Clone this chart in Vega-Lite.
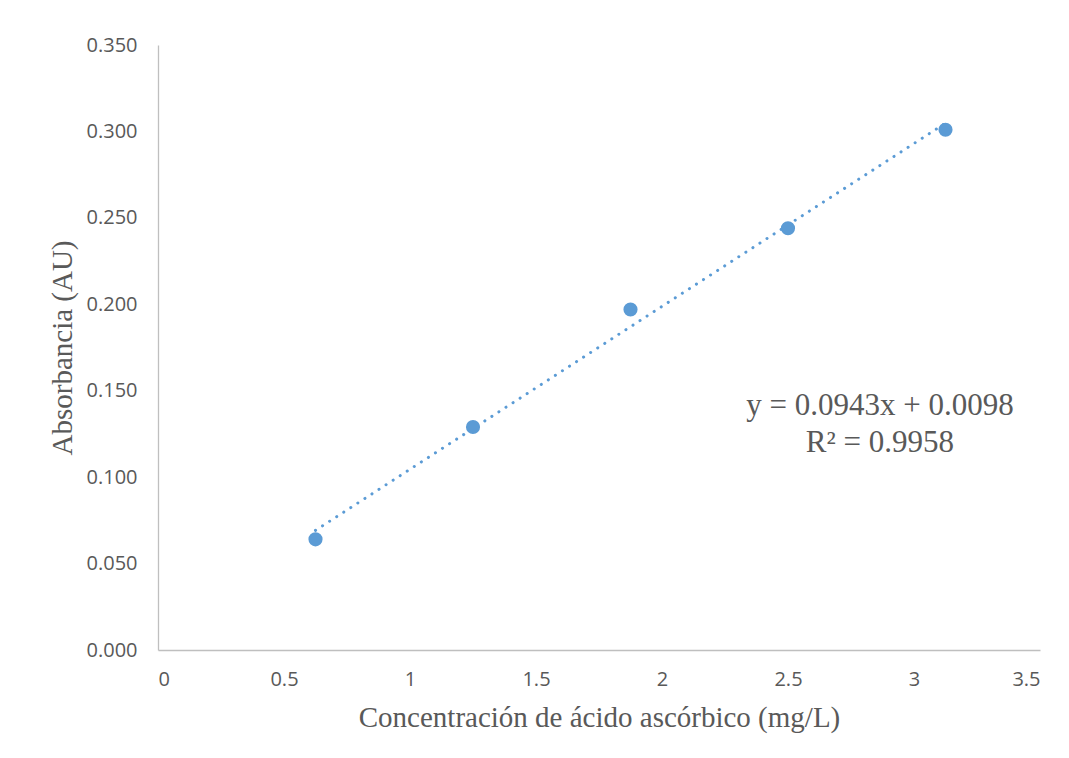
{
  "$schema": "https://vega.github.io/schema/vega-lite/v6.json",
  "width": 882,
  "height": 605,
  "autosize": {"type": "none"},
  "padding": {"left": 158, "top": 45, "right": 29, "bottom": 108},
  "background": "white",
  "config": {
    "view": {"stroke": null},
    "axis": {
      "grid": false,
      "ticks": false,
      "domain": true,
      "domainColor": "#BFBFBF",
      "domainWidth": 1.3,
      "labelFont": "Open Sans",
      "labelFontSize": 20,
      "labelColor": "#595959",
      "titleFont": "Liberation Serif",
      "titleFontSize": 29,
      "titleFontWeight": "normal",
      "titleColor": "#595959"
    }
  },
  "data": {
    "values": [
      {"conc": 0.625, "absorbance": 0.064},
      {"conc": 1.25, "absorbance": 0.129},
      {"conc": 1.875, "absorbance": 0.197},
      {"conc": 2.5, "absorbance": 0.244},
      {"conc": 3.125, "absorbance": 0.301}
    ]
  },
  "encoding": {
    "x": {
      "field": "conc",
      "type": "quantitative",
      "scale": {"domain": [0, 3.5], "nice": false, "zero": true},
      "axis": {
        "title": "Concentración de ácido ascórbico (mg/L)",
        "values": [0, 0.5, 1, 1.5, 2, 2.5, 3, 3.5],
        "format": "~g",
        "labelPadding": 19,
        "titlePadding": 14
      }
    },
    "y": {
      "field": "absorbance",
      "type": "quantitative",
      "scale": {"domain": [0, 0.35], "nice": false},
      "axis": {
        "title": "Absorbancia (AU)",
        "values": [0, 0.05, 0.1, 0.15, 0.2, 0.25, 0.3, 0.35],
        "format": ".3f",
        "labelPadding": 21,
        "titlePadding": 9
      }
    }
  },
  "layer": [
    {
      "transform": [{"regression": "absorbance", "on": "conc"}],
      "mark": {
        "type": "line",
        "color": "#5B9BD5",
        "strokeWidth": 3,
        "strokeDash": [0.1, 8.3],
        "strokeCap": "round"
      }
    },
    {
      "mark": {"type": "circle", "size": 200, "color": "#5B9BD5", "opacity": 1}
    },
    {
      "transform": [{"filter": "datum.conc == 0.625"}],
      "mark": {
        "type": "text",
        "text": ["y = 0.0943x + 0.0098", "R² = 0.9958"],
        "font": "Liberation Serif",
        "fontSize": 31,
        "lineHeight": 37,
        "align": "center",
        "baseline": "alphabetic",
        "color": "#595959"
      },
      "encoding": {
        "x": {"datum": 2.865, "type": "quantitative"},
        "y": {"datum": 0.136, "type": "quantitative"}
      }
    }
  ]
}
